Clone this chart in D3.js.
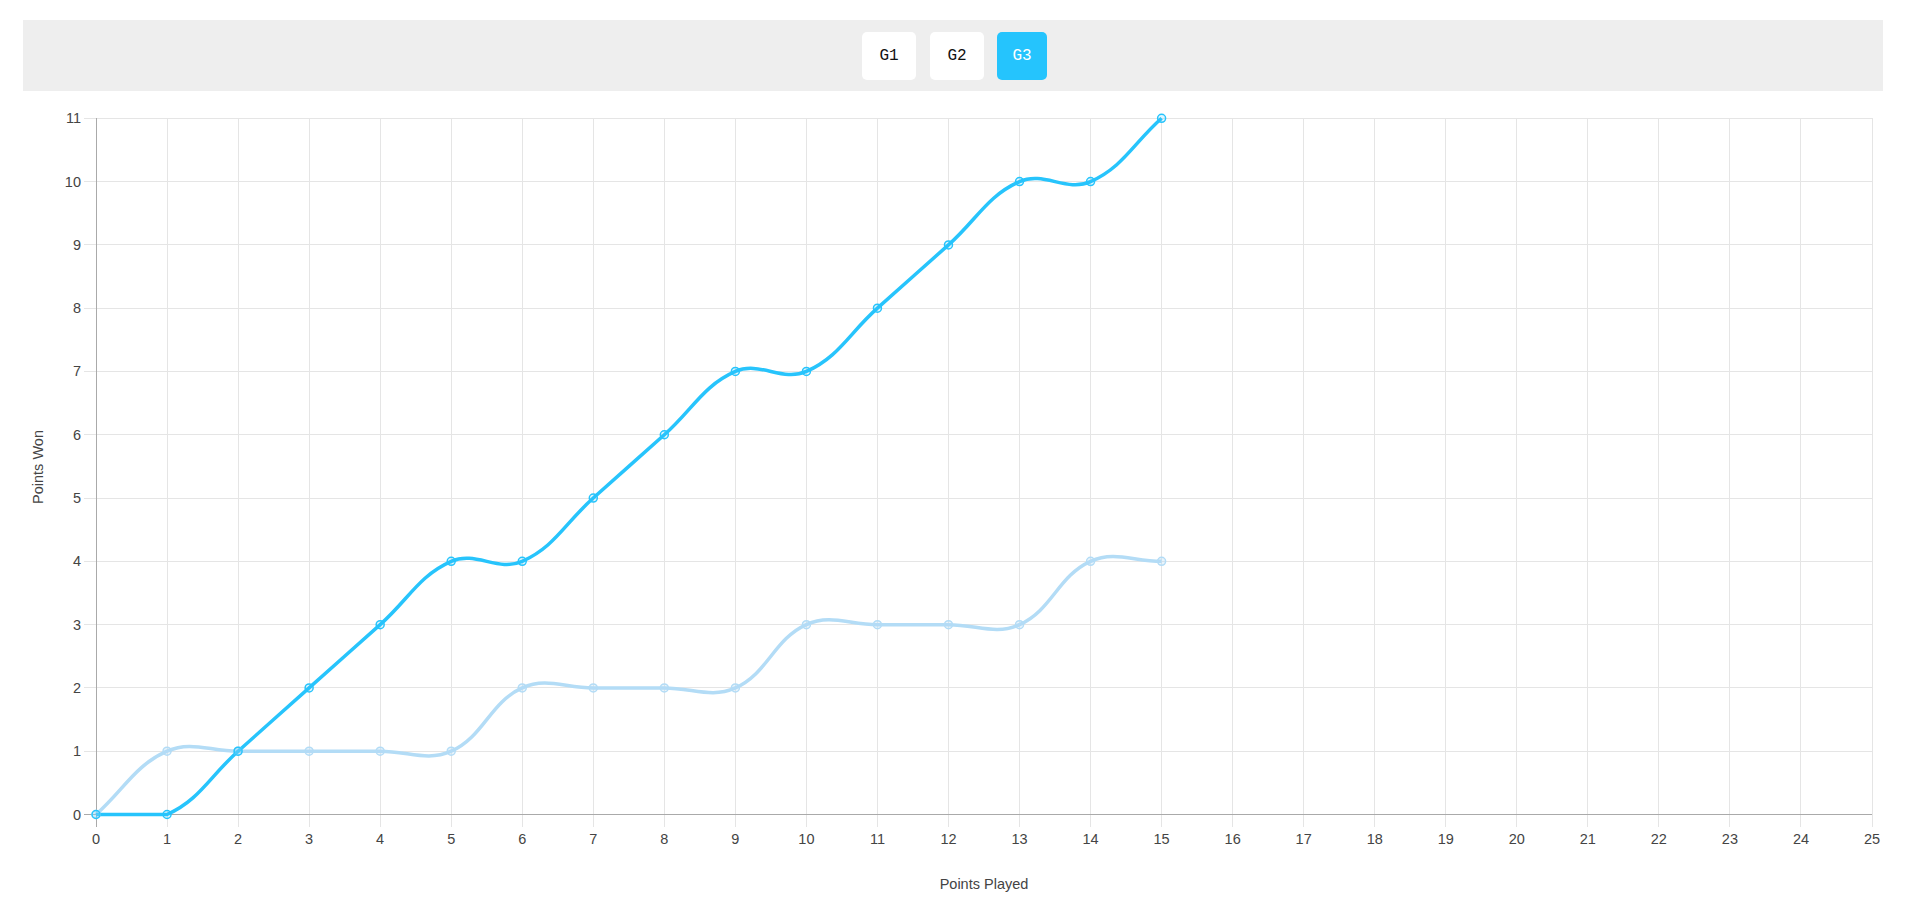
<!DOCTYPE html>
<html><head><meta charset="utf-8">
<script src="https://cdn.jsdelivr.net/npm/d3@7"></script>
<style>
body{margin:0;background:#fff;font-family:"Liberation Sans",Arial,sans-serif;}
#bar{position:absolute;left:23px;top:20px;width:1860px;height:71px;background:#eeeeee;}
.btn{position:absolute;top:12px;height:48px;border-radius:5px;background:#fff;font-family:"Liberation Mono","DejaVu Sans Mono",monospace;font-size:16px;line-height:48px;text-align:center;color:#111;}
.btn.on{background:#25c4fd;color:#fff;}
svg{position:absolute;left:0;top:0;}
</style></head><body>
<div id="bar"></div>
<svg id="chart" width="1905" height="903"></svg>
<script>
const games = ["G1","G2","G3"];
const activeGame = "G3";
const pointsPlayed = [0,1,2,3,4,5,6,7,8,9,10,11,12,13,14,15];
const playerA = [0,0,1,2,3,4,4,5,6,7,7,8,9,10,10,11];
const playerB = [0,1,1,1,1,1,2,2,2,2,3,3,3,3,4,4];
const xTicks = d3.range(0,26);
const yTicks = d3.range(0,12);

// buttons
const btnX = [839, 907, 974];
const btnW = [54, 54, 50];
d3.select("#bar").selectAll("div").data(games).enter().append("div")
  .attr("class", d => "btn" + (d===activeGame?" on":""))
  .style("left", (d,i)=>btnX[i]+"px").style("width",(d,i)=>btnW[i]+"px")
  .text(d=>d);

const svg = d3.select("#chart");
const L=96, R=1872, T=118.3, B=814.5;
const x = d3.scaleLinear().domain([0,25]).range([L,R]);
const y = d3.scaleLinear().domain([0,11]).range([B,T]);
const grid = "#e5e5e5", txt="#444";

const g = svg.append("g");
g.selectAll(".vg").data(xTicks).enter().append("line")
  .attr("x1",d=>x(d)).attr("x2",d=>x(d)).attr("y1",T).attr("y2",B+12)
  .attr("stroke",grid).attr("stroke-width",1).attr("shape-rendering","crispEdges");
g.selectAll(".hg").data(yTicks).enter().append("line")
  .attr("y1",d=>y(d)).attr("y2",d=>y(d)).attr("x1",L-12).attr("x2",R)
  .attr("stroke",grid).attr("stroke-width",1).attr("shape-rendering","crispEdges");
g.append("line").attr("x1",L).attr("x2",L).attr("y1",T).attr("y2",B+12).attr("stroke","#aaa").attr("shape-rendering","crispEdges");
g.append("line").attr("x1",L-12).attr("x2",R).attr("y1",B).attr("y2",B).attr("stroke","#aaa").attr("shape-rendering","crispEdges");

g.selectAll(".xl").data(xTicks).enter().append("text")
  .attr("x",d=>x(d)).attr("y",B+29).attr("text-anchor","middle")
  .attr("font-size",14.5).attr("fill",txt).text(d=>d);
g.selectAll(".yl").data(yTicks).enter().append("text")
  .attr("x",L-15).attr("y",d=>y(d)+5).attr("text-anchor","end")
  .attr("font-size",14.5).attr("fill",txt).text(d=>d);

svg.append("text").attr("x",(L+R)/2).attr("y",889).attr("text-anchor","middle")
  .attr("font-size",14.5).attr("fill",txt).text("Points Played");
svg.append("text").attr("transform","translate(43,467) rotate(-90)").attr("text-anchor","middle")
  .attr("font-size",14.5).attr("fill",txt).text("Points Won");

// Chart.js-style spline path
function splinePath(pts, t){
  const n=pts.length;
  const cps = pts.map((cur,i)=>{
    const prev = pts[Math.max(0,i-1)], next = pts[Math.min(n-1,i+1)];
    const d01 = Math.hypot(cur[0]-prev[0],cur[1]-prev[1]);
    const d12 = Math.hypot(next[0]-cur[0],next[1]-cur[1]);
    let s01 = d01/(d01+d12), s12 = d12/(d01+d12);
    if(!isFinite(s01)) s01=0; if(!isFinite(s12)) s12=0;
    const fa=t*s01, fb=t*s12;
    const clampY=v=>Math.max(T,Math.min(B,v));
    const clampX=v=>Math.max(L,Math.min(R,v));
    return {
      p:[clampX(cur[0]-fa*(next[0]-prev[0])), clampY(cur[1]-fa*(next[1]-prev[1]))],
      n:[clampX(cur[0]+fb*(next[0]-prev[0])), clampY(cur[1]+fb*(next[1]-prev[1]))]
    };
  });
  let d = `M${pts[0][0]},${pts[0][1]}`;
  for(let i=1;i<n;i++){
    d += `C${cps[i-1].n[0]},${cps[i-1].n[1]},${cps[i].p[0]},${cps[i].p[1]},${pts[i][0]},${pts[i][1]}`;
  }
  return d;
}

const series = [
  {vals:playerB, color:"#b3dcf6", fill:"rgba(179,220,246,0.3)"},
  {vals:playerA, color:"#27c4fc", fill:"rgba(39,196,252,0.15)"}
];
series.forEach(s=>{
  const pts = pointsPlayed.map((p,i)=>[x(p), y(s.vals[i])]);
  svg.append("path").attr("d",splinePath(pts,0.4)).attr("fill","none")
    .attr("stroke",s.color).attr("stroke-width",3.5);
});
series.forEach(s=>{
  svg.append("g").selectAll("circle").data(pointsPlayed).enter().append("circle")
    .attr("cx",d=>x(d)).attr("cy",(d,i)=>y(s.vals[i])).attr("r",4)
    .attr("fill",s.fill).attr("stroke",s.color).attr("stroke-width",1.5);
});
</script>
</body></html>
